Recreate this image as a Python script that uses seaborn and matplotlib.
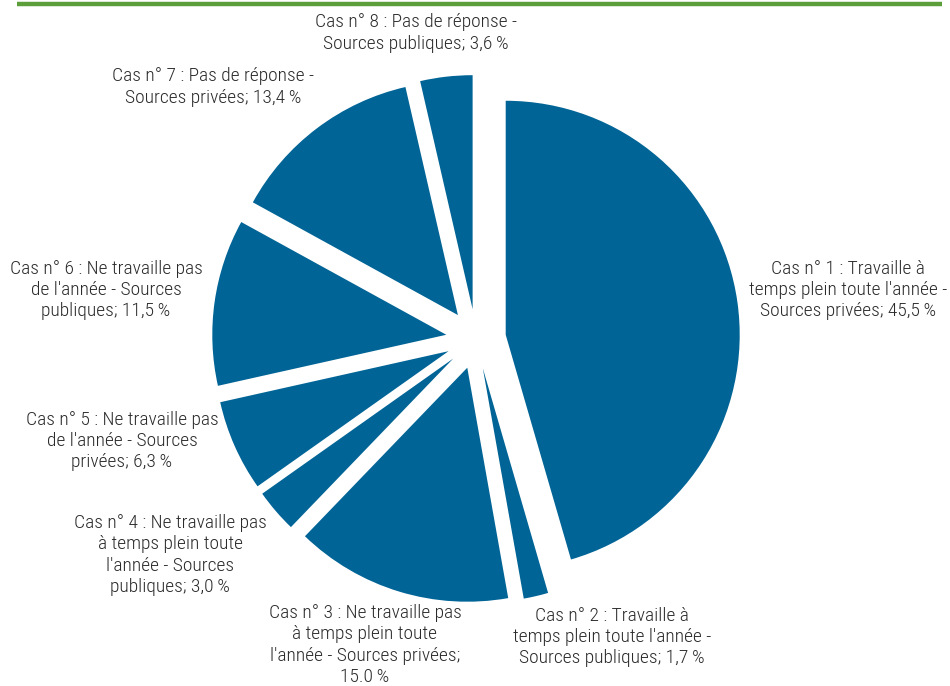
import matplotlib
matplotlib.use("Agg")
import matplotlib.pyplot as plt
import seaborn as sns

sns.set_theme(style="white")
plt.rcParams['font.family'] = ['Roboto Condensed', 'DejaVu Sans']

labels = [
    "Cas n° 1 : Travaille à\ntemps plein toute l'année -\nSources privées; 45,5\u2009%",
    "Cas n° 2 : Travaille à\ntemps plein toute l'année -\nSources publiques; 1,7\u2009%",
    "Cas n° 3 : Ne travaille pas\nà temps plein toute\nl'année - Sources privées;\n15.0\u2009%",
    "Cas n° 4 : Ne travaille pas\nà temps plein toute\nl'année - Sources\npubliques; 3,0\u2009%",
    "Cas n° 5 : Ne travaille pas\nde l'année - Sources\nprivées; 6,3\u2009%",
    "Cas n° 6 : Ne travaille pas\nde l'année - Sources\npubliques; 11,5\u2009%",
    "Cas n° 7 : Pas de réponse -\nSources privées; 13,4\u2009%",
    "Cas n° 8 : Pas de réponse -\nSources publiques; 3,6\u2009%",
]
values = [45.5, 1.7, 15.0, 3.0, 6.3, 11.5, 13.4, 3.6]
# label centre positions in pixel coords (x, y from top)
label_pos = [(848, 290), (612, 637), (365, 645), (170, 555),
             (122, 441), (106, 290), (213, 87), (416, 33)]

W, H = 950, 686
fig = plt.figure(figsize=(9.5, 6.86), dpi=100)
ax = fig.add_axes([0, 0, 1, 1])

color = "#006496"
ax.pie(values, colors=[color] * len(values), startangle=90, counterclock=False,
       center=(476, H - 339), radius=234, explode=[30] * len(values),
       wedgeprops=dict(linewidth=0), frame=False)
ax.set_xlim(0, W)
ax.set_ylim(0, H)
ax.set_aspect("auto")
ax.axis("off")

for lab, (x, y) in zip(labels, label_pos):
    ax.text(x, H - y, lab, ha="center", va="center", multialignment="center",
            fontsize=14, fontweight=300, color="#2b2b2b", linespacing=1.22)

ax.plot([17, 942], [H - 4, H - 4], color="#5B9E3A", linewidth=3.2,
        solid_capstyle="butt")

fig.savefig("out.png", dpi=100)
